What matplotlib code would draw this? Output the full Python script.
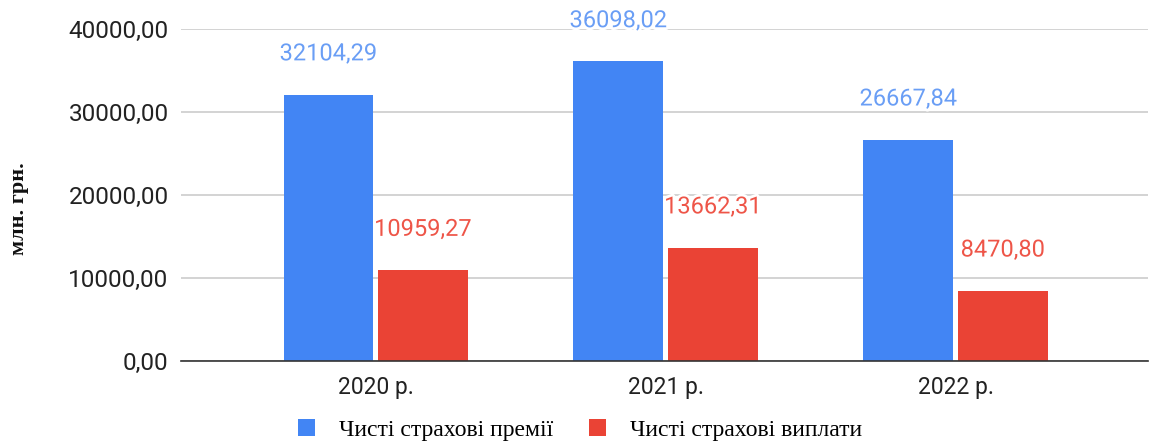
import matplotlib
matplotlib.use("Agg")
import matplotlib.pyplot as plt
import matplotlib.patheffects as pe
import numpy as np

years = ["2020 р.", "2021 р.", "2022 р."]
premiums = [32104.29, 36098.02, 26667.84]
payouts = [10959.27, 13662.31, 8470.80]
series_names = ["Чисті страхові премії", "Чисті страхові виплати"]
yticks = [0, 10000, 20000, 30000, 40000]

BLUE = "#4285f4"
RED = "#ea4335"


def fmt(v):
    return f"{v:.2f}".replace(".", ",")


fig = plt.figure(figsize=(11.52, 4.43), dpi=100)
ax = fig.add_axes([181 / 1152, 1 - 361 / 443, (1148 - 181) / 1152, (361 - 29) / 443])

x = np.arange(len(years))
w = 0.31
off = 0.163
b1 = ax.bar(x - off, premiums, w, color=BLUE, zorder=3, label=series_names[0])
b2 = ax.bar(x + off, payouts, w, color=RED, zorder=3, label=series_names[1])

halo = [pe.withStroke(linewidth=4, foreground="white")]
for bars, vals, col in [(b1, premiums, "#6a9ef5"), (b2, payouts, "#ee5548")]:
    for rect, v in zip(bars, vals):
        ax.annotate(fmt(v), (rect.get_x() + rect.get_width() / 2, v),
                    xytext=(0, 21), textcoords="offset points",
                    ha="center", va="bottom", fontsize=17, color=col,
                    family="Roboto", path_effects=halo, zorder=5)

ax.set_xlim(-0.672, 2.664)
ax.set_ylim(0, 40000)
ax.set_yticks(yticks)
ax.set_yticklabels([fmt(v) for v in yticks], family="Roboto", fontsize=17.5, color="#222222")
ax.set_xticks(x)
ax.set_xticklabels(years, family="Roboto", fontsize=16.5, color="#222222")
ax.tick_params(length=0)
ax.tick_params(axis="y", pad=9)
ax.tick_params(axis="x", pad=11)
ax.grid(axis="y", color="#cccccc", linewidth=1.2, zorder=0)
for s in ["top", "right", "left"]:
    ax.spines[s].set_visible(False)
ax.spines["bottom"].set_color("#333333")
ax.spines["bottom"].set_linewidth(1.2)
ax.spines["bottom"].set_zorder(4)

fig.text(19 / 1152, 1 - 209 / 443, "млн. грн.", rotation=90, ha="center", va="center",
         family="Liberation Serif", fontsize=16, weight="bold", color="#111111")

fig.legend(handles=[b1, b2], labels=series_names, loc="center",
           bbox_to_anchor=(580 / 1152, 1 - 430 / 443), ncol=2, frameon=False,
           prop={"family": "Liberation Serif", "size": 17},
           handlelength=0.75, handleheight=0.75, columnspacing=1.5, handletextpad=1.0)

fig.savefig("out.png", dpi=100)
